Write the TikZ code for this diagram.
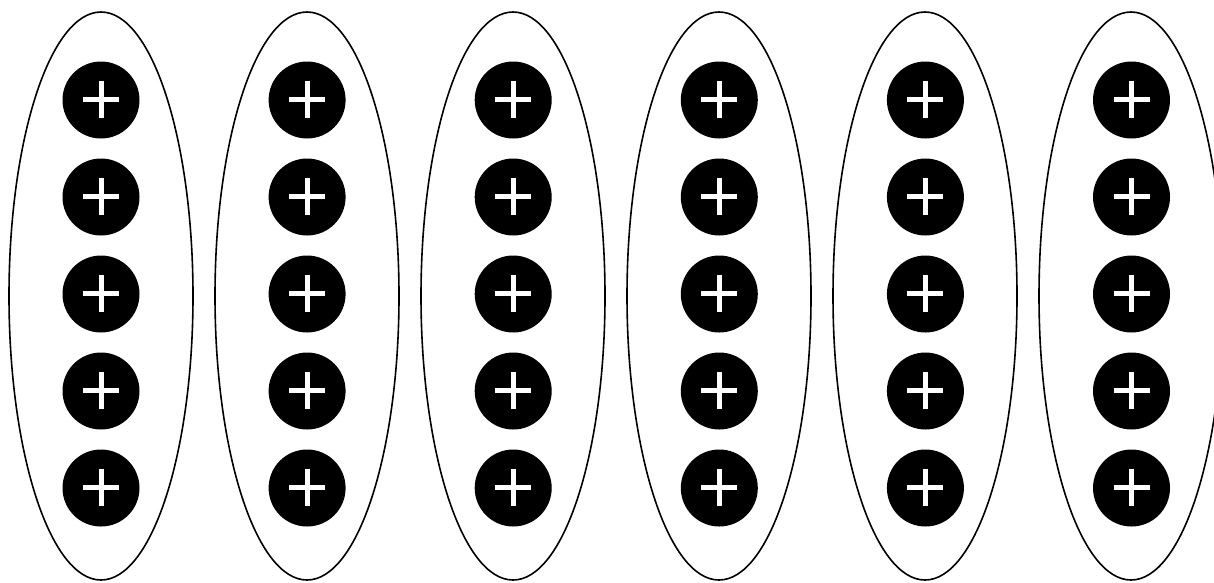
\documentclass[tikz,border=0pt]{standalone}
\begin{document}
\begin{tikzpicture}[x=1pt,y=-1pt,
  blobline/.style={draw=black, line width=1.6pt},
  ion/.style={circle, fill=black, minimum size=77pt, inner sep=0pt,
    path picture={
      \draw[white, line width=5pt]
        ([xshift=-18pt,yshift=1pt]path picture bounding box.center) -- ++(36pt,0pt)
        ([yshift=19.5pt]path picture bounding box.center) -- ++(0pt,-37pt);
    }}]
\useasboundingbox (0,0) rectangle (1214,582);
\begin{scope}
\clip (0,0) rectangle (1214,582);
\foreach \i in {0,...,5} {
  \pgfmathsetmacro{\cx}{101+206*\i}
  \draw[blobline] (\cx,296) ellipse [x radius=92, y radius=284];
}
\end{scope}
\foreach \i in {0,...,5} {
  \pgfmathsetmacro{\cx}{101+206.1*\i}
  \foreach \j in {0,...,4} {
    \pgfmathsetmacro{\cy}{100+97*\j}
    \node[ion] (c\i-\j) at (\cx,\cy) {};
  }
}
\end{tikzpicture}
\end{document}
